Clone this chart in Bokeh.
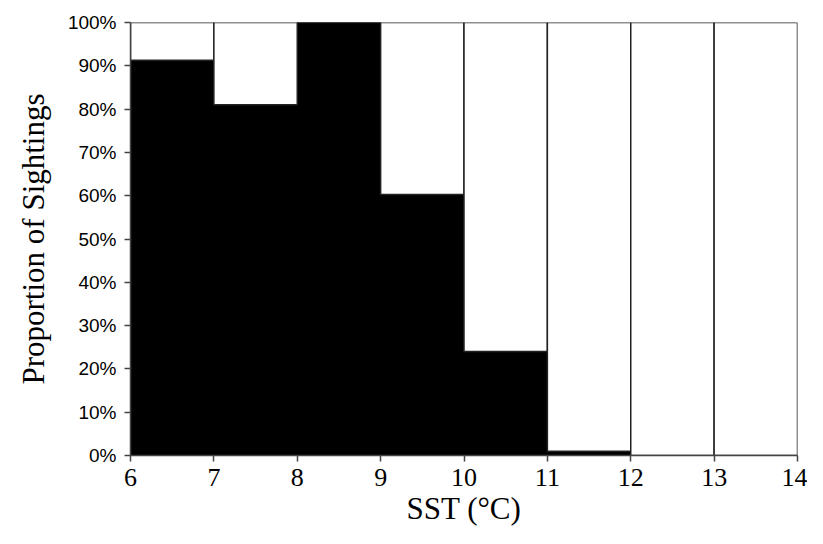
from bokeh.plotting import figure
from bokeh.models import NumeralTickFormatter, FixedTicker, Range1d
from bokeh.embed import file_html
from bokeh.resources import INLINE

bin_left = [6, 7, 8, 9, 10, 11, 12, 13]
proportion = [0.913, 0.81, 1.0, 0.603, 0.24, 0.01, 0.0, 0.0]
y_ticks = [0, 0.1, 0.2, 0.3, 0.4, 0.5, 0.6, 0.7, 0.8, 0.9, 1.0]
x_ticks = [6, 7, 8, 9, 10, 11, 12, 13, 14]

centers = [b + 0.5 for b in bin_left]
full = [1.0] * len(centers)

p = figure(width=807, height=528, output_backend="svg", toolbar_location=None,
           x_range=Range1d(6, 14), y_range=Range1d(0, 1),
           min_border_left=130, min_border_right=10, min_border_top=22, min_border_bottom=68)
p.outline_line_color = None
p.xgrid.visible = False
p.ygrid.visible = False

p.vbar(x=centers, width=1, bottom=0, top=proportion, fill_color="black", line_color="black", line_width=1.5)
p.vbar(x=centers, width=1, bottom=proportion, top=full, fill_color="white",
       line_color="#222222", line_width=1.5)

p.yaxis.ticker = FixedTicker(ticks=y_ticks)
p.yaxis.formatter = NumeralTickFormatter(format="0%")
p.xaxis.ticker = FixedTicker(ticks=x_ticks)

for ax in (p.xaxis[0], p.yaxis[0]):
    ax.minor_tick_line_color = None
    ax.major_tick_out = 6
    ax.major_tick_in = 0
    ax.axis_line_color = "#444444"
    ax.major_tick_line_color = "#444444"
    ax.axis_line_width = 1.5
    ax.major_tick_line_width = 1.5
    ax.axis_label_text_font = "Liberation Serif"
    ax.axis_label_text_font_style = "normal"
    ax.axis_label_text_font_size = "31px"
    ax.axis_label_text_color = "black"
    ax.major_label_text_color = "black"

p.yaxis.major_label_text_font = "Liberation Sans"
p.yaxis.major_label_text_font_size = "19px"
p.yaxis.major_label_standoff = 8
p.xaxis.major_label_text_font = "Liberation Serif"
p.xaxis.major_label_text_font_size = "26px"
p.xaxis.major_label_standoff = 7
p.xaxis.axis_label = "SST (°C)"
p.yaxis.axis_label = "Proportion of Sightings"
p.xaxis.axis_label_standoff = 2
p.yaxis.axis_label_standoff = 14

open("out.html", "w").write(file_html(p, INLINE))
